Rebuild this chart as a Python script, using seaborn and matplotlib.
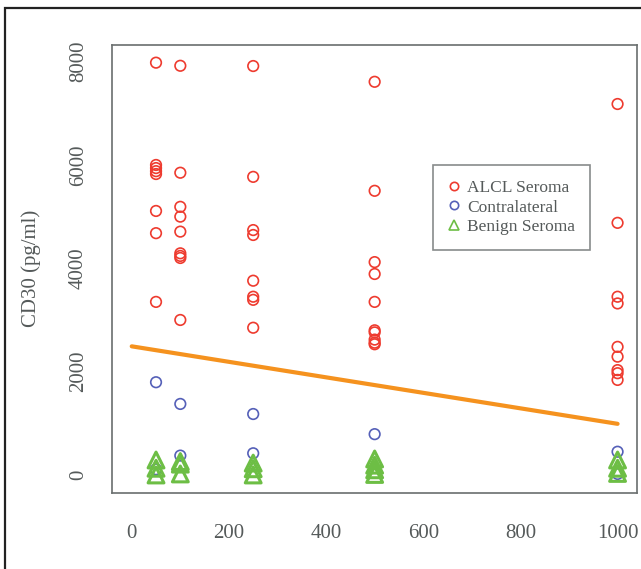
import numpy as np
import pandas as pd
import matplotlib
matplotlib.use("Agg")
import matplotlib.pyplot as plt
import seaborn as sns
from matplotlib.patches import Rectangle
from matplotlib.lines import Line2D

# ---- data ----
alcl_x = [50]*8 + [100]*9 + [250]*8 + [500]*10 + [1000]*9
alcl_y = [7980, 6000, 5940, 5880, 5825, 5110, 4680, 3350,
          7920, 5850, 5190, 5000, 4710, 4290, 4240, 4200, 3000,
          7915, 5770, 4740, 4645, 3760, 3450, 3390, 2850,
          7610, 5500, 4120, 3890, 3350, 2800, 2760, 2620, 2530, 2560,
          7180, 4880, 3450, 3320, 2480, 2290, 2030, 1970, 1840]
contra_x = [50, 50, 100, 100, 250, 250, 500, 1000, 1000]
contra_y = [1795, 110, 1375, 375, 1180, 420, 790, 450, 20]
benign_x = [50, 50, 50, 100, 100, 100, 250, 250, 250, 500, 500, 500, 500, 1000, 1000, 1000]
benign_y = [290, 130, 0, 260, 210, 20, 230, 120, 0, 310, 190, 100, 10, 290, 130, 30]
line_x = [0, 1000]
line_y = [2490, 990]
x_ticks = [0, 200, 400, 600, 800, 1000]
y_ticks = [0, 2000, 4000, 6000, 8000]
labels = ["ALCL Seroma", "Contralateral", "Benign Seroma"]

RED = "#EE3B2F"
BLUE = "#5560B8"
GREEN = "#6DBE45"
ORANGE = "#F5921E"
AXC = "#6A6E6E"
TXT = "#555A5A"

sns.set_style("white")
plt.rcParams["font.family"] = ["Liberation Serif", "DejaVu Serif"]

df_a = pd.DataFrame({"x": alcl_x, "y": alcl_y})
df_c = pd.DataFrame({"x": contra_x, "y": contra_y})
df_b = pd.DataFrame({"x": benign_x, "y": benign_y})
df_l = pd.DataFrame({"x": line_x, "y": line_y})

fig = plt.figure(figsize=(6.41, 5.69), dpi=100)
ax = fig.add_axes([112.3/641, 1-492.7/569, (637-112.3)/641, (492.7-45)/569])

sns.scatterplot(data=df_a, x="x", y="y", ax=ax, marker="o", s=58,
                facecolor="none", edgecolor=RED, linewidth=1.2, zorder=3)
sns.scatterplot(data=df_c, x="x", y="y", ax=ax, marker="o", s=58,
                facecolor="none", edgecolor=BLUE, linewidth=1.2, zorder=3)
sns.scatterplot(data=df_b, x="x", y="y", ax=ax, marker="^", s=130,
                facecolor="none", edgecolor=GREEN, linewidth=2.2, zorder=3)
sns.lineplot(data=df_l, x="x", y="y", ax=ax, color=ORANGE, linewidth=3.0, zorder=2)

ax.set_xlim(-40, 1040)
ax.set_ylim(-343, 8322)
ax.set_xticks(x_ticks)
ax.set_xticklabels([str(v) for v in x_ticks])
ax.set_yticks(y_ticks)
ax.set_yticklabels([str(v) for v in y_ticks], rotation=90, va="center")
ax.tick_params(axis="both", direction="out", length=8.5, width=1.1, color=AXC,
               labelsize=15, labelcolor=TXT)
ax.tick_params(axis="x", pad=14)
ax.tick_params(axis="y", pad=9)
ax.set_xlabel("")
ax.set_ylabel("CD30 (pg/ml)", fontsize=15, color=TXT, labelpad=20)
for sp in ax.spines.values():
    sp.set_color(AXC)
    sp.set_linewidth(1.2)
    sp.set_visible(True)

handles = [
    Line2D([], [], marker="o", linestyle="none", markerfacecolor="none",
           markeredgecolor=RED, markersize=6, markeredgewidth=1.2),
    Line2D([], [], marker="o", linestyle="none", markerfacecolor="none",
           markeredgecolor=BLUE, markersize=6, markeredgewidth=1.2),
    Line2D([], [], marker="^", linestyle="none", markerfacecolor="none",
           markeredgecolor=GREEN, markersize=7, markeredgewidth=1.2),
]
leg = ax.legend(handles, labels, loc="upper left",
                bbox_to_anchor=((433-112.3)/(637-112.3), 1-(165-45)/(492.7-45)),
                frameon=True, fancybox=False, fontsize=12.5, labelcolor=TXT,
                handlelength=0.7, handletextpad=0.4, borderpad=0.85,
                labelspacing=0.2, borderaxespad=0)
leg.get_frame().set_edgecolor(AXC)
leg.get_frame().set_linewidth(1.2)

fig.patches.append(Rectangle((5/641, -0.2), 1.5, 0.2 + 1-7.5/569,
                             transform=fig.transFigure, fill=False,
                             edgecolor="#222222", linewidth=1.6))

fig.savefig("out.png", dpi=100)
